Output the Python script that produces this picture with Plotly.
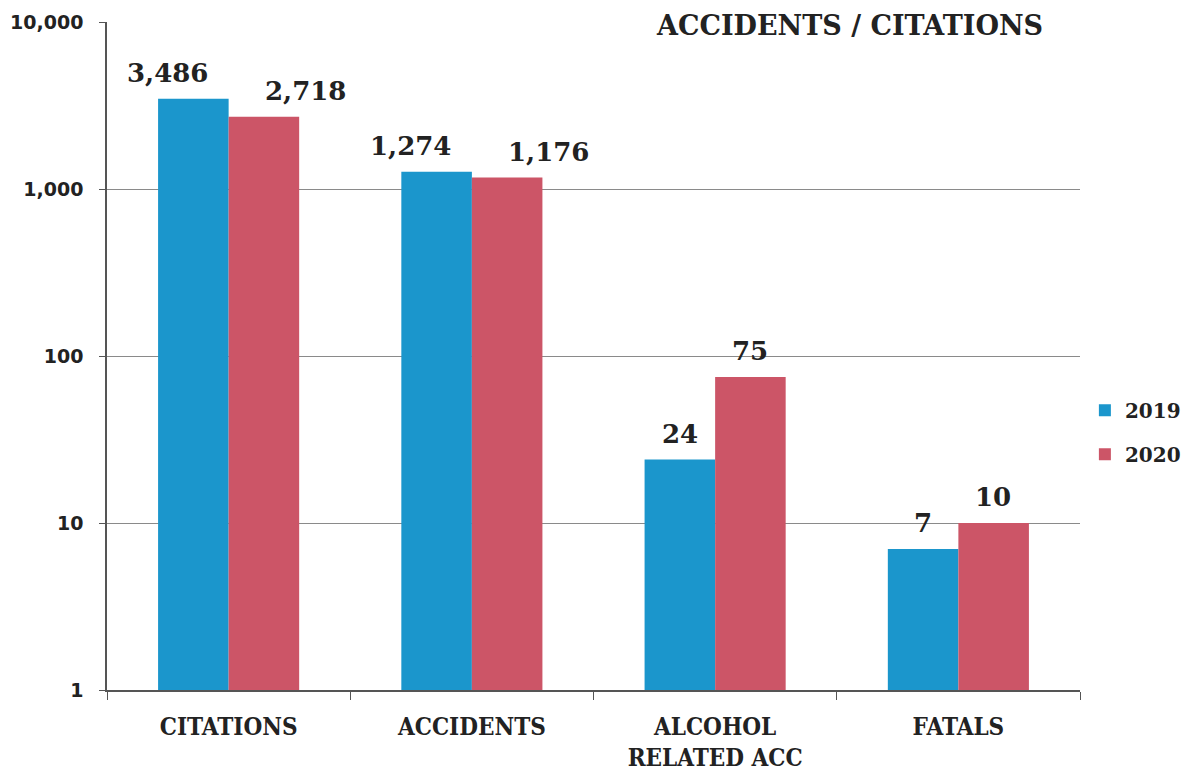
import math
import plotly.graph_objects as go

categories = ['CITATIONS', 'ACCIDENTS', 'ALCOHOL<br>RELATED ACC', 'FATALS']
values_2019 = [3486, 1274, 24, 7]
values_2020 = [2718, 1176, 75, 10]
tick_vals = [1, 10, 100, 1000, 10000]
tick_text = ['1', '10', '100', '1,000', '10,000']

BLUE = '#1b96cc'
RED = '#cc5567'
SERIF = 'DejaVu Serif'
COND = 'DejaVu Serif Condensed, DejaVu Serif'

fig = go.Figure()
fig.add_bar(x=categories, y=values_2019, name='2019', legendgroup='a',
            marker_color=BLUE, marker_line_width=0)
fig.add_bar(x=categories, y=values_2020, name='2020', legendgroup='b',
            marker_color=RED, marker_line_width=0)

# value labels, nudged sideways when the number is wider than its bar
for vals, side, nudge in [(values_2019, -1, 26), (values_2020, 1, 42)]:
    for cat, v in zip(categories, vals):
        fig.add_annotation(
            x=cat, y=math.log10(v), yref='y', text=f'{v:,}', showarrow=False,
            xanchor='center', yanchor='bottom',
            xshift=side * (35 + (nudge if v >= 1000 else 0)), yshift=9,
            font=dict(family=SERIF, size=26, color='#222', weight='bold'),
        )

fig.add_annotation(
    text='ACCIDENTS / CITATIONS', xref='paper', yref='paper', x=0.964, y=1.021,
    xanchor='right', yanchor='top', yshift=0, showarrow=False,
    font=dict(family=SERIF, size=27, color='#222', weight='bold'),
)

# the page adds an 8px body margin, so the figure is 8px smaller than the window
fig.update_layout(
    width=1186, height=767,
    margin=dict(l=99, r=114, t=14, b=85),
    paper_bgcolor='white', plot_bgcolor='white',
    barmode='group', bargap=0.42, bargroupgap=0,
    showlegend=True,
    legend=dict(xref='container', yref='container', x=0.908, y=0.447,
                xanchor='left', yanchor='middle',
                font=dict(family=SERIF, size=20, color='#222', weight='bold'),
                itemwidth=30, tracegroupgap=15),
    font=dict(family=SERIF, color='#222'),
)
fig.update_xaxes(
    automargin=False,
    showline=True, linecolor='#555', linewidth=1.5,
    ticks='outside', tickson='boundaries', ticklen=8, tickcolor='#555',
    tickfont=dict(family=COND, size=24, color='#222', weight='bold'),
    ticklabelstandoff=14,
)
fig.update_yaxes(
    automargin=False,
    type='log', range=[0, 4.002],
    tickvals=tick_vals, ticktext=tick_text,
    showline=True, linecolor='#555', linewidth=1.5,
    ticks='outside', ticklen=6, tickcolor='#555',
    showgrid=True, gridcolor='#8a8a8a', gridwidth=1.2,
    tickfont=dict(family='DejaVu Sans', size=19, color='#222', weight='bold'),
    ticklabelstandoff=12,
)

fig.write_html('out.html')
